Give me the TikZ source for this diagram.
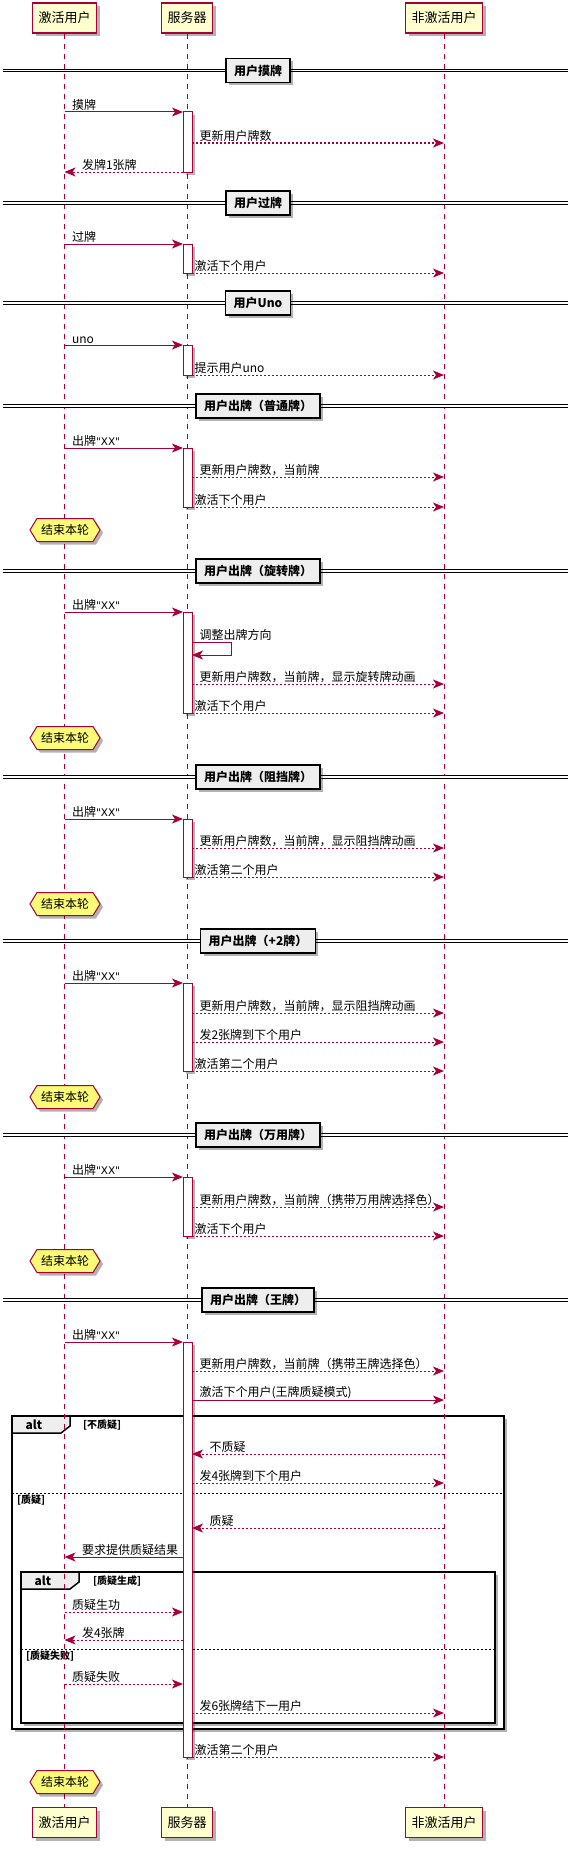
\documentclass[tikz,border=0pt]{standalone}
\usepackage{fontspec}
\setmainfont{Noto Sans CJK SC}
\newfontfamily\latinfont{DejaVu Sans}
\usetikzlibrary{arrows.meta,shapes.symbols,shadows}
\definecolor{umlred}{HTML}{A80036}
\definecolor{umlbox}{HTML}{FEFECE}
\definecolor{umlnote}{HTML}{FBFB77}
\definecolor{umlgrey}{HTML}{EEEEEE}
\newcommand{\playxx}{出牌{\latinfont\fontsize{10.5}{14}\selectfont"XX"}}

\begin{document}
\begin{tikzpicture}[x=1pt,y=-1pt,
    umlshadow/.style={drop shadow={shadow xshift=3pt,shadow yshift=-3pt,opacity=.3,fill=black}},
    party/.style={draw=umlred,fill=umlbox,line width=1.2pt,minimum height=30pt,inner xsep=6pt,font=\fontsize{13}{15}\selectfont,umlshadow},
    life/.style={draw=umlred,line width=1pt,dash pattern=on 5pt off 5pt},
    divider/.style={draw=black,fill=umlgrey,line width=1.5pt,minimum height=24pt,inner xsep=8pt,font=\bfseries\fontsize{12}{14}\selectfont,umlshadow},
    dline/.style={double,double distance=1.2pt,line width=1pt},
    act/.style={draw=umlred,fill=white,line width=1pt,minimum width=9pt,inner sep=0pt,outer sep=0pt,umlshadow},
    msg/.style={draw=umlred,line width=1pt,-{Stealth[length=11pt,width=9pt,inset=3pt]}},
    ret/.style={msg,dash pattern=on 2pt off 2pt},
    txt/.style={font=\fontsize{12}{14}\selectfont,inner sep=1pt,text=black},
    fwd/.style={txt,pos=0,anchor=south west,xshift=6pt},
    fwdend/.style={txt,pos=0,anchor=south west,xshift=1pt},
    bwd/.style={txt,pos=1,anchor=south west,xshift=16pt},
    hexnote/.style={signal,signal to=west and east,signal pointer angle=117,draw=umlred,fill=umlnote,line width=1pt,inner xsep=4pt,inner ysep=2pt,minimum height=23pt,font=\fontsize{12}{14}\selectfont,umlshadow},
    altframe/.style={draw=black,fill=white,line width=1.8pt,inner sep=0pt,outer sep=0pt,umlshadow},
    alttab/.style={draw=black,fill=umlgrey,line width=1.5pt},
    altsep/.style={draw=black,line width=1pt,dash pattern=on 2pt off 2pt},
    altname/.style={font=\bfseries\fontsize{12}{14}\selectfont,inner sep=0pt},
    guard/.style={font=\bfseries\fontsize{10}{12}\selectfont,inner sep=0pt,anchor=west}]
    \useasboundingbox (0,0) rectangle (568,1849);
    \node[party] (u) at (64.5,18) {激活用户};
    \node[party] (s) at (187,18) {服务器};
    \node[party] (n) at (444,18) {非激活用户};
    \node[party] (u2) at (64.5,1822.5) {激活用户};
    \node[party] (s2) at (187,1822.5) {服务器};
    \node[party] (n2) at (444,1822.5) {非激活用户};
    %
    \node[altframe,minimum width=492pt,minimum height=313pt] (alt1) at (258,1572.5) {};
    \draw[alttab] (alt1.north west) -- ++(58,0) -- ++(0,10) -- ++(-9,7) -- (alt1.west |- 0,1433) -- cycle;
    \node[altname] (k1) at (34,1425) {alt};
    \node[guard] (g1) at (83,1425) {[不质疑]};
    \draw[altsep] (alt1.west |- 0,1493) -- (alt1.east |- 0,1493);
    \node[guard] (g2) at (17,1500) {[质疑]};
    \node[altframe,minimum width=474pt,minimum height=151pt] (alt2) at (258,1647.5) {};
    \draw[alttab] (alt2.north west) -- ++(58,0) -- ++(0,10) -- ++(-9,7) -- (alt2.west |- 0,1589) -- cycle;
    \node[altname] (k2) at (43,1581) {alt};
    \node[guard] (g3) at (93,1581) {[质疑生成]};
    \draw[altsep] (alt2.west |- 0,1649) -- (alt2.east |- 0,1649);
    \node[guard] (g4) at (26,1656) {[质疑失败]};
    %
    \draw[life] (u.south) -- (u2.north);
    \draw[life] (s.south) -- (s2.north);
    \draw[life] (n.south) -- (n2.north);
    %
    \draw[dline] (3,70.5) -- (568,70.5);
    \draw[dline] (3,203) -- (568,203);
    \draw[dline] (3,303) -- (568,303);
    \draw[dline] (3,406) -- (568,406);
    \draw[dline] (3,571) -- (568,571);
    \draw[dline] (3,777) -- (568,777);
    \draw[dline] (3,941) -- (568,941);
    \draw[dline] (3,1135) -- (568,1135);
    \draw[dline] (3,1300) -- (568,1300);
    \node[divider] (d1) at (258,70.5) {用户摸牌};
    \node[divider] (d2) at (258,203) {用户过牌};
    \node[divider] (d3) at (258,303) {用户Uno};
    \node[divider] (d4) at (258,406) {用户出牌（普通牌）};
    \node[divider] (d5) at (258,571) {用户出牌（旋转牌）};
    \node[divider] (d6) at (258,777) {用户出牌（阻挡牌）};
    \node[divider] (d7) at (258,941) {用户出牌（+2牌）};
    \node[divider] (d8) at (258,1135) {用户出牌（万用牌）};
    \node[divider] (d9) at (258,1300) {用户出牌（王牌）};
    %
    \node[act,minimum height=60pt] (a1) at (187.5,142) {};
    \node[act,minimum height=29pt] (a2) at (187.5,258.5) {};
    \node[act,minimum height=30pt] (a3) at (187.5,360) {};
    \node[act,minimum height=59pt] (a4) at (187.5,477.5) {};
    \node[act,minimum height=101pt] (a5) at (187.5,662.5) {};
    \node[act,minimum height=58pt] (a6) at (187.5,848) {};
    \node[act,minimum height=88pt] (a7) at (187.5,1027) {};
    \node[act,minimum height=59pt] (a8) at (187.5,1206.5) {};
    \node[act,minimum height=415pt] (a9) at (187.5,1549.5) {};
    %
    \draw[msg] (u |- a1.north) -- node[fwd] (m1) {摸牌} (a1.north west);
    \draw[ret] (a1.east |- 0,143) -- node[fwd] (m2) {更新用户牌数} (n |- 0,143);
    \draw[ret] (a1.south west) -- node[bwd] (m3) {发牌1张牌} (u |- a1.south);
    %
    \draw[msg] (u |- a2.north) -- node[fwd] (m4) {过牌} (a2.north west);
    \draw[ret] (a2.south east) -- node[fwdend] (m5) {激活下个用户} (n |- a2.south);
    %
    \draw[msg] (u |- a3.north) -- node[fwd] (m6) {uno} (a3.north west);
    \draw[ret] (a3.south east) -- node[fwdend] (m7) {提示用户uno} (n |- a3.south);
    %
    \draw[msg] (u |- a4.north) -- node[fwd] (m8) {\playxx} (a4.north west);
    \draw[ret] (a4.east |- 0,477) -- node[fwd] (m9) {更新用户牌数，当前牌} (n |- 0,477);
    \draw[ret] (a4.south east) -- node[fwdend] (m10) {激活下个用户} (n |- a4.south);
    \node[hexnote] (h1) at (65,530) {结束本轮};
    %
    \draw[msg] (u |- a5.north) -- node[fwd] (m11) {\playxx} (a5.north west);
    \draw[msg] (a5.east |- 0,642) -- node[fwd] (m12) {调整出牌方向} ++(39,0) -- ++(0,13) -- (a5.east |- 0,655);
    \draw[ret] (a5.east |- 0,684) -- node[fwd] (m13) {更新用户牌数，当前牌，显示旋转牌动画} (n |- 0,684);
    \draw[ret] (a5.south east) -- node[fwdend] (m14) {激活下个用户} (n |- a5.south);
    \node[hexnote] (h2) at (65,738) {结束本轮};
    %
    \draw[msg] (u |- a6.north) -- node[fwd] (m15) {\playxx} (a6.north west);
    \draw[ret] (a6.east |- 0,848) -- node[fwd] (m16) {更新用户牌数，当前牌，显示阻挡牌动画} (n |- 0,848);
    \draw[ret] (a6.south east) -- node[fwdend] (m17) {激活第二个用户} (n |- a6.south);
    \node[hexnote] (h3) at (65,904) {结束本轮};
    %
    \draw[msg] (u |- a7.north) -- node[fwd] (m18) {\playxx} (a7.north west);
    \draw[ret] (a7.east |- 0,1013) -- node[fwd] (m19) {更新用户牌数，当前牌，显示阻挡牌动画} (n |- 0,1013);
    \draw[ret] (a7.east |- 0,1042) -- node[fwd] (m20) {发2张牌到下个用户} (n |- 0,1042);
    \draw[ret] (a7.south east) -- node[fwdend] (m21) {激活第二个用户} (n |- a7.south);
    \node[hexnote] (h4) at (65,1097) {结束本轮};
    %
    \draw[msg] (u |- a8.north) -- node[fwd] (m22) {\playxx} (a8.north west);
    \draw[ret] (a8.east |- 0,1207) -- node[fwd] (m23) {更新用户牌数，当前牌（携带万用牌选择色）} (n |- 0,1207);
    \draw[ret] (a8.south east) -- node[fwdend] (m24) {激活下个用户} (n |- a8.south);
    \node[hexnote] (h5) at (65,1261) {结束本轮};
    %
    \draw[msg] (u |- a9.north) -- node[fwd] (m25) {\playxx} (a9.north west);
    \draw[ret] (a9.east |- 0,1371) -- node[fwd] (m26) {更新用户牌数，当前牌（携带王牌选择色）} (n |- 0,1371);
    \draw[msg] (a9.east |- 0,1400) -- node[fwd] (m27) {激活下个用户(王牌质疑模式)} (n |- 0,1400);
    \draw[ret] (n |- 0,1454) -- node[bwd] (m28) {不质疑} (a9.east |- 0,1454);
    \draw[ret] (a9.east |- 0,1483) -- node[fwd] (m29) {发4张牌到下个用户} (n |- 0,1483);
    \draw[ret] (n |- 0,1528) -- node[bwd] (m30) {质疑} (a9.east |- 0,1528);
    \draw[msg] (a9.west |- 0,1557) -- node[bwd] (m31) {要求提供质疑结果} (u |- 0,1557);
    \draw[ret] (u |- 0,1612) -- node[fwd] (m32) {质疑生功} (a9.west |- 0,1612);
    \draw[ret] (a9.west |- 0,1640) -- node[bwd] (m33) {发4张牌} (u |- 0,1640);
    \draw[ret] (u |- 0,1684) -- node[fwd] (m34) {质疑失败} (a9.west |- 0,1684);
    \draw[ret] (a9.east |- 0,1713) -- node[fwd] (m35) {发6张牌结下一用户} (n |- 0,1713);
    \draw[ret] (a9.south east) -- node[fwdend] (m36) {激活第二个用户} (n |- a9.south);
    \node[hexnote] (h6) at (65,1782) {结束本轮};
\end{tikzpicture}
\end{document}
